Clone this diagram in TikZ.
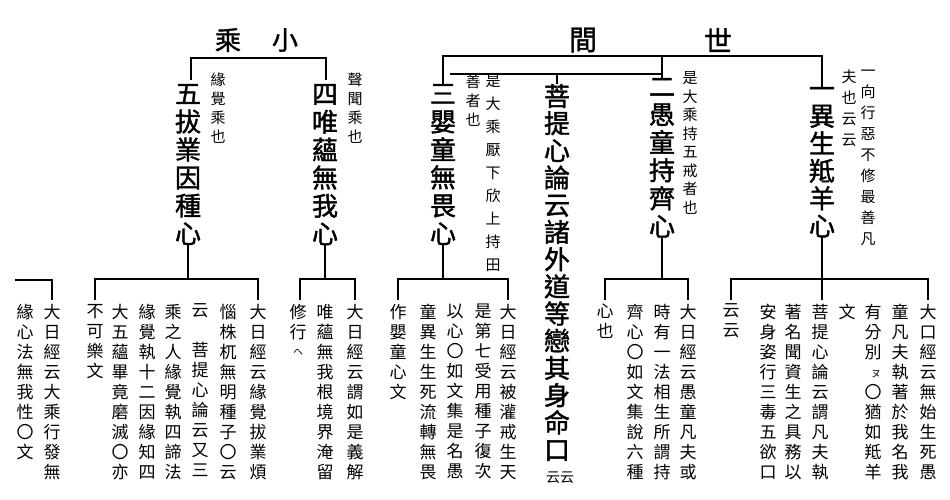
\documentclass[tikz,border=0pt]{standalone}
\usepackage{fontspec}
\setmainfont{Noto Sans CJK TC}
\newfontfamily\boldcjk{Noto Sans CJK TC}[FakeBold=1.5]
\makeatletter
\def\vtloop#1{\ifx#1\endvt\else\hbox to 1em{\hss#1\hss}\expandafter\vtloop\fi}
\let\endvt\relax
\newcommand\vt[3]{\vbox{\fontsize{#1}{#2}\selectfont\baselineskip=#2pt\lineskiplimit=-20pt\lineskip=0pt\hsize=1em\vtloop#3\endvt}}
\makeatother
\begin{document}
\begin{tikzpicture}[x=1pt,y=-1pt,line width=1.4pt]
\tikzset{
 vnode/.style={anchor=north,inner sep=0pt,outer sep=0pt},
 mnode/.style={anchor=north,inner sep=0pt,outer sep=0pt,font=\boldcjk},
 br/.style={line width=1.4pt},
}
\useasboundingbox (0,0) rectangle (950,499);
% top labels
\node[font=\boldcjk] (lxiao) at (285,40) {\fontsize{26}{26}\selectfont 小};
\node[font=\boldcjk] (lcheng) at (228,40) {\fontsize{26}{26}\selectfont 乘};
\node[font=\boldcjk] (lshi) at (718,40) {\fontsize{28}{28}\selectfont 世};
\node[font=\boldcjk] (ljian) at (583,40) {\fontsize{28}{28}\selectfont 間};
% main columns
\newcommand\mainc[4]{\node[mnode] (#1) at (#2,#3) {\vt{26}{28}{#4}};}
\mainc{m5}{188}{84}{五拔業因種心}
\mainc{m4}{325}{84}{四唯蘊無我心}
\mainc{m3}{443}{84}{三嬰童無畏心}
\node[mnode] (mb) at (557,84) {\vt{26}{27.2}{菩提心論云諸外道等戀其身命口}};
\mainc{m2}{662}{78}{二愚童持齊心}
\node[mnode] (m1) at (822,87) {\vt{26}{27.5}{一異生羝羊心}};
\node (yunyun) at (560,478) {\fontsize{14}{14}\selectfont 云云};
% annotations
\node[vnode] (a5) at (218,73) {\vt{15}{19}{緣覺乘也}};
\node[vnode] (a4) at (355,73) {\vt{15}{19}{聲聞乘也}};
\node[vnode] (a3a) at (493,75) {\vt{15}{23}{是大乘厭下欣上持田}};
\node[vnode] (a3b) at (473,75) {\vt{15}{19}{善者也}};
\node[vnode] (a2) at (690,72) {\vt{15}{18.5}{是大乘持五戒者也}};
\node[vnode] (a1a) at (868,70) {\vt{15}{21}{一向行惡不修最善凡}};
\node[vnode] (a1b) at (849,70) {\vt{15}{21}{夫也云云}};
% top brackets
\coordinate (t1) at (443,56); \coordinate (t2) at (822,56);
\coordinate (t3) at (662,56); \coordinate (t4) at (450,74); \coordinate (t5) at (662,74);
\coordinate (t6) at (557,74);
\draw[br] (m3.north) -- (t1) -- (t2) -- (m1.north);
\draw[br] (t3) -- (t5);
\draw[br] (t4) -- (t5) -- (m2.north);
\draw[br] (t6) -- (mb.north);
\coordinate (s1) at (191,58); \coordinate (s2) at (326,58);
\draw[br] (191,80) -- (s1) -- (s2) -- (326,80);
% bottom brackets
\newcommand\bstem[4]{%
 \draw[br] (#1.south) -- (#2,279);
 \draw[br] (#3,300) -- (#3,279) -- (#4,279) -- (#4,300);}
\bstem{m5}{188}{95}{258}
\bstem{m4}{325}{300}{355}
\bstem{m3}{443}{398}{508}
\bstem{m2}{662}{605}{688}
\bstem{m1}{822}{731}{928}
\draw[br] (822,279) -- (822,300);
\draw[br] (15,280) -- (52,280) -- (52,300);
% bottom columns
\newcommand\bc[3]{\node[vnode] (#1) at (#2,304) {\vt{17}{20}{#3}};}
\bc{c1}{25}{緣心法無我性〇文}
\bc{c2}{52}{大日經云大乘行發無}
\bc{c3}{95}{不可樂文}
\bc{c4}{120}{大五蘊畢竟磨滅〇亦}
\bc{c5}{147}{緣覺執十二因緣知四}
\bc{c6}{173}{乘之人緣覺執四諦法}
\bc{c7}{200}{云　菩提心論云又三}
\bc{c8}{228}{惱株杌無明種子〇云}
\bc{c9}{258}{大日經云緣覺拔業煩}
\bc{c10}{298}{修行}
\node (c10s) at (298,352) {\fontsize{10}{10}\selectfont ヘ};
\bc{c11}{325}{唯蘊無我根境界淹留}
\bc{c12}{355}{大日經云謂如是義解}
\bc{c13}{398}{作嬰童心文}
\bc{c14}{428}{童異生生死流轉無畏}
\bc{c15}{455}{以心〇如文集是名愚}
\bc{c16}{483}{是第七受用種子復次}
\bc{c17}{508}{大日經云被灌戒生天}
\bc{c18}{605}{心也}
\bc{c19}{635}{齊心〇如文集說六種}
\bc{c20}{662}{時有一法相生所謂持}
\bc{c21}{688}{大日經云愚童凡夫或}
\bc{c22}{731}{云云}
\bc{c23}{768}{安身姿行三毒五欲口}
\bc{c24}{793}{著名聞資生之具務以}
\bc{c25}{820}{菩提心論云謂凡夫執}
\bc{c26}{847}{文}
\node[vnode] (c27) at (873,304) {\vt{17}{20}{有分別　〇猶如羝羊}};
\node (c27s) at (876,374) {\fontsize{10}{10}\selectfont ヌ};
\bc{c28}{900}{童凡夫執著於我名我}
\bc{c29}{928}{大口經云無始生死愚}
\end{tikzpicture}
\end{document}
